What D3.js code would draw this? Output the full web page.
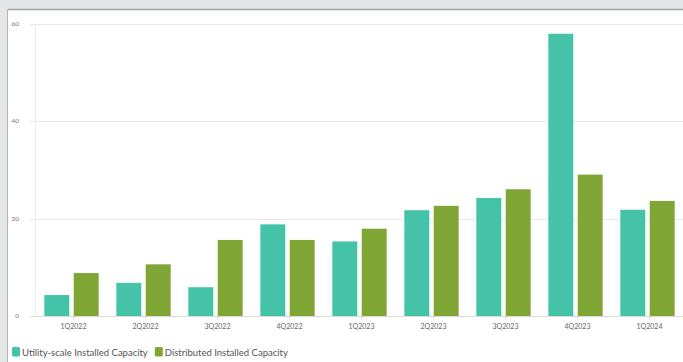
<!DOCTYPE html>
<html>
<head>
<meta charset="utf-8">
<script src="https://cdn.jsdelivr.net/npm/d3@7/dist/d3.min.js"></script>
<style>
  html, body { margin: 0; padding: 0; background: #e5e6e8; }
  svg { display: block; font-family: Lato, "Open Sans", sans-serif; }
</style>
</head>
<body>
<svg id="chart" width="683" height="362"></svg>
<script>
// Installed capacity by quarter
const quarters = ["1Q2022", "2Q2022", "3Q2022", "4Q2022", "1Q2023", "2Q2023", "3Q2023", "4Q2023", "1Q2024"];
const utilityScale = [4.3, 6.8, 5.9, 18.8, 15.3, 21.7, 24.2, 57.9, 21.8];
const distributed = [8.8, 10.6, 15.6, 15.6, 17.9, 22.6, 26.0, 29.0, 23.6];
const seriesNames = ["Utility-scale Installed Capacity", "Distributed Installed Capacity"];
const yTicks = [0, 20, 40, 60];

const colors = ["#45c3a9", "#7fa534"];

const svg = d3.select("#chart");
const W = 683, H = 362;

// panel
svg.append("rect").attr("x", 8).attr("y", 10).attr("width", W - 8).attr("height", H - 10)
  .attr("fill", "#ffffff");
svg.append("line").attr("x1", 7.5).attr("x2", W).attr("y1", 9.5).attr("y2", 9.5)
  .attr("stroke", "#a3a4a6").attr("stroke-width", 1.5);
svg.append("line").attr("x1", 7.5).attr("x2", 7.5).attr("y1", 9.5).attr("y2", H)
  .attr("stroke", "#b5b6b8").attr("stroke-width", 1);

const x0 = d3.scaleBand().domain(quarters).range([35.5, 683.5])
  .paddingInner(0.245).paddingOuter(0.1225);
const x1 = d3.scaleBand().domain([0, 1]).range([0, x0.bandwidth()]).paddingInner(0.15);
const y = d3.scaleLinear().domain([0, 60]).range([316, 23.5]);

// gridlines
svg.append("g").selectAll("line").data(yTicks).join("line")
  .attr("x1", 30).attr("x2", W)
  .attr("y1", d => Math.round(y(d)) + 0.5).attr("y2", d => Math.round(y(d)) + 0.5)
  .attr("stroke", d => d === 0 ? "#dcdcdc" : "#e8e8e8").attr("stroke-width", 1);

svg.append("line").attr("x1", 35.5).attr("x2", 35.5)
  .attr("y1", y(60)).attr("y2", y(0))
  .attr("stroke", "#ececec");

// y tick labels
svg.append("g").selectAll("text").data(yTicks).join("text")
  .attr("x", 19).attr("y", d => y(d) + 2)
  .attr("text-anchor", "end")
  .attr("font-size", 6.5).attr("fill", "#777")
  .text(d => d);

// bars
const groups = svg.append("g").selectAll("g").data(quarters).join("g")
  .attr("transform", d => `translate(${x0(d)},0)`);
groups.selectAll("rect")
  .data((d, i) => [utilityScale[i], distributed[i]])
  .join("rect")
  .attr("x", (d, j) => x1(j))
  .attr("width", x1.bandwidth())
  .attr("y", d => y(d))
  .attr("height", d => y(0) - y(d))
  .attr("fill", (d, j) => colors[j]);

// x axis ticks and labels
const xa = svg.append("g");
xa.selectAll("line").data(quarters).join("line")
  .attr("x1", d => x0(d) + x0.bandwidth() / 2 + 2).attr("x2", d => x0(d) + x0.bandwidth() / 2 + 2)
  .attr("y1", y(0)).attr("y2", y(0) + 3)
  .attr("stroke", "#d0d0d0");
xa.selectAll("text").data(quarters).join("text")
  .attr("x", d => x0(d) + x0.bandwidth() / 2 + 2)
  .attr("y", 329)
  .attr("text-anchor", "middle")
  .attr("font-size", 7).attr("fill", "#666")
  .text(d => d);

// legend
const legend = svg.append("g");
let lx = 12;
seriesNames.forEach((name, i) => {
  legend.append("rect").attr("x", lx).attr("y", 347).attr("width", 8).attr("height", 9.5)
    .attr("rx", 1.5).attr("fill", colors[i]);
  const t = legend.append("text").attr("x", lx + 10).attr("y", 355.5)
    .attr("font-size", 9.5).attr("fill", "#555").text(name);
  lx += 10 + t.node().getComputedTextLength() + 7;
});
</script>
</body>
</html>
